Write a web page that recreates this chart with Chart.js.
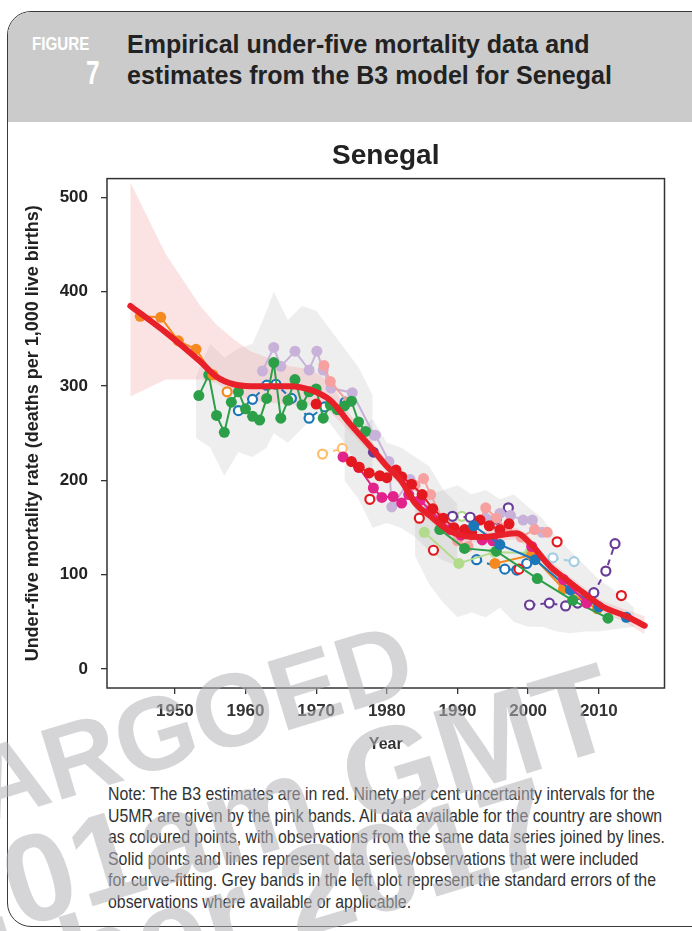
<!DOCTYPE html>
<html>
<head>
<meta charset="utf-8">
<script src="https://cdn.jsdelivr.net/npm/chart.js@4.4.1/dist/chart.umd.min.js"></script>
<style>
  html, body { margin: 0; padding: 0; background: #fff; }
  body { width: 692px; height: 931px; position: relative; overflow: hidden; font-family: "Liberation Sans", Arial, sans-serif; }
  #card { position: absolute; left: 7px; top: 11px; width: 760px; height: 914px; border: 1.5px solid #3a3a3a; border-radius: 24px; overflow: hidden; }
  #head { position: absolute; left: 0; top: 0; right: 0; height: 110px; background: #cbcbcb; }
  #figlab { position: absolute; left: 24px; top: 21px; color: #fff; font-weight: bold; font-size: 19px; transform: scaleX(0.8); transform-origin: 0 0; }
  #fignum { position: absolute; left: 78px; top: 43px; color: #fff; font-weight: bold; font-size: 34px; line-height: 34px; transform: scaleX(0.72); transform-origin: 0 0; }
  #figtitle { position: absolute; left: 119px; top: 17px; color: #222; font-weight: bold; font-size: 25px; line-height: 31px; }
  #chartbox { position: absolute; left: 0; top: 130px; width: 692px; height: 640px; }
  #note { position: absolute; left: 108px; top: 784px; color: #333; font-size: 17.5px; line-height: 21.6px; white-space: nowrap; transform-origin: 0 0; }
  #wm { position: absolute; left: 0; top: 0; pointer-events: none; }
</style>
</head>
<body>
<div id="card">
  <div id="head">
    <div id="figlab">FIGURE</div>
    <div id="fignum">7</div>
    <div id="figtitle">Empirical under-five mortality data and<br>estimates from the B3 model for Senegal</div>
  </div>
</div>
<div id="chartbox"><canvas id="u5mrChart" width="692" height="640"></canvas></div>
<div id="note">Note: The B3 estimates are in red. Ninety per cent uncertainty intervals for the<br>U5MR are given by the pink bands. All data available for the country are shown<br>as coloured points, with observations from the same data series joined by lines.<br>Solid points and lines represent data series/observations that were included<br>for curve-fitting. Grey bands in the left plot represent the standard errors of the<br>observations where available or applicable.</div>
<svg id="wm" width="692" height="931">
  <g fill="rgba(178,178,184,0.55)" font-family="Liberation Sans, Arial, sans-serif" font-weight="bold" text-anchor="end">
    <text x="420" y="690" font-size="104" transform="rotate(-17 420 690)">EMBARGOED</text>
    <text x="623" y="744" font-size="125" transform="rotate(-17 623 744)">00:01am GMT</text>
    <text x="562" y="858" font-size="125" transform="rotate(-17 562 858)">October 2017</text>
  </g>
</svg>
<script>
// tick positions
const xTicks = [1950, 1960, 1970, 1980, 1990, 2000, 2010];
const yTicks = [0, 100, 200, 300, 400, 500];

// B3 estimate (red) and 90% uncertainty band (pink)
const b3Years  = [1943.7, 1948.7, 1953.6, 1955.9, 1958.3, 1960.7, 1966.3, 1969.2, 1972, 1974.8, 1978, 1980, 1982, 1984, 1986.2, 1988.5, 1991, 1993.5, 1996, 1998.4, 2000.2, 2003.1, 2005.4, 2007.8, 2010.6, 2013.9, 2016.5];
const b3Median = [385, 357, 326, 310, 302, 300, 300, 296, 285, 260, 233, 215, 200, 176, 162, 148, 141, 140, 142, 144, 134, 109, 95, 81, 66, 56, 46];
const b3Upper  = [516, 440, 385, 365, 350, 337, 321, 318, 305, 270, 240, 221, 206, 182, 168, 154, 147, 146, 148, 150, 140, 115, 101, 87, 72, 63, 56];
const b3Lower  = [289, 307, 307, 303, 292, 285, 280, 280, 272, 252, 226, 209, 194, 170, 156, 142, 135, 134, 136, 138, 128, 103, 89, 75, 60, 49, 37];

// grey standard-error bands: [year, upper, lower]
const seBand1 = [[1953, 310, 245], [1955, 345, 235], [1957, 330, 205], [1959, 340, 230], [1961, 345, 225], [1963, 380, 235], [1964, 400, 250], [1966, 370, 240], [1968, 385, 255], [1970, 380, 270], [1972, 360, 260], [1974, 340, 240], [1976, 320, 215], [1978, 290, 200]];
const seBand2 = [[1974, 260, 200], [1976, 255, 180], [1978, 265, 150], [1980, 240, 155], [1982, 235, 150], [1984, 225, 140], [1986, 215, 125], [1988, 190, 115], [1990, 175, 110]];
const seBand3 = [[1984, 175, 120], [1986, 185, 90], [1988, 190, 70], [1990, 195, 55], [1992, 185, 60], [1994, 190, 55], [1996, 180, 65], [1998, 185, 50], [2000, 172, 45], [2002, 160, 45], [2004, 140, 40], [2006, 125, 38], [2008, 110, 40], [2010, 95, 40], [2012, 85, 42], [2015, 65, 45]];

// observations: [year, U5MR]
const orangeEarly = [[1945.1, 374], [1948.0, 373], [1950.5, 348], [1953.0, 339], [1955.4, 312]];
const orangeEarlyOpen = [[1957.4, 294]];
const greenEarly = [[1953.4, 290], [1954.8, 312], [1955.9, 269], [1957.0, 251], [1958.0, 283], [1959.0, 294], [1960.0, 276], [1961.0, 268], [1962.0, 264], [1963.0, 287], [1964.0, 325], [1965.0, 266], [1966.0, 285], [1967.0, 307], [1968.0, 280], [1969.0, 294], [1970.0, 297], [1971.0, 266], [1972.0, 280], [1973.0, 275], [1974.0, 279], [1975.0, 284], [1976.0, 262], [1977.0, 252]];
const lavenderEarly = [[1962.4, 316], [1964.0, 341], [1965.0, 321], [1967.0, 337], [1969.0, 317], [1970.1, 337], [1971.0, 317], [1972.1, 298], [1975.1, 293], [1978.2, 248]];
const blueEarlyOpen = [[1959.0, 274], [1961.0, 286], [1963.0, 301], [1964.3, 302], [1966.5, 287], [1969.0, 266], [1971.2, 278], [1974.1, 283]];
const salmonEarly = [[1971.1, 322], [1972.0, 305], [1974.5, 283]];
const redSingle = [[1970.0, 281]];
const lightOrangeOpen = [[1970.9, 228], [1973.7, 234]];
const magentaA = [[1973.8, 225], [1976.0, 214], [1978.1, 192], [1979.3, 182], [1980.9, 183], [1982.1, 176], [1983.1, 185], [1984.7, 179], [1986.2, 168], [1987.6, 158], [1989.0, 148], [1990.5, 142], [1992.0, 143], [1993.5, 137], [1995.0, 136]];
const redA = [[1975.0, 220], [1976.1, 214], [1977.5, 208], [1979.0, 205], [1980.0, 203], [1981.3, 211], [1982.1, 204], [1983.5, 196], [1985.0, 185], [1986.5, 170], [1988.0, 160], [1989.5, 150], [1991.0, 148], [1992.0, 145], [1993.2, 158], [1994.5, 152], [1996.0, 148], [1997.3, 154]];
const redOpen = [[1977.6, 180], [1984.6, 160], [1986.6, 126], [1998.7, 106], [2004.1, 135], [2013.2, 78]];
const purpleDark = [[1978.1, 230]];
const lavenderB = [[1978.4, 248], [1980.3, 220], [1980.7, 172], [1983.3, 201], [1985.9, 169], [1987.5, 160], [1989.0, 150], [1991.5, 147], [1994.0, 160], [1996.0, 165], [1997.5, 163], [1999.3, 158], [2000.6, 158], [2002.0, 145]];
const salmonB = [[1984.0, 195], [1985.2, 202], [1986.2, 185], [1988.0, 158], [1990.0, 136], [1991.5, 130], [1994.0, 171], [1995.5, 160], [1997.0, 148], [1999.0, 140], [2000.9, 148], [2002.7, 145]];
const purpleOpenA = [[1989.3, 162], [1991.8, 161], [1995.5, 159], [1997.2, 171]];
const purpleOpenB = [[2000.2, 68], [2003.0, 70], [2005.3, 67], [2007.0, 70], [2009.3, 81], [2011.0, 104], [2012.3, 133]];
const lightGreen = [[1985.3, 145], [1990.2, 112], [1995.2, 124], [2000.2, 123], [2005.3, 86]];
const lightGreenOpen = [[1990.6, 162]];
const greenLate = [[1987.5, 148], [1991.0, 128], [1995.5, 125], [2001.3, 96], [2006.3, 73], [2011.3, 54]];
const orangeLate = [[1995.3, 112], [2000.5, 121], [2005.0, 85], [2009.8, 64]];
const blueLate = [[1992.3, 152], [1996.0, 132], [2001.0, 116], [2006.0, 84], [2010.0, 66], [2013.9, 55]];
const blueLateOpen = [[1992.7, 116], [1996.7, 106], [1998.4, 105], [1999.8, 112]];
const lightBlueOpen = [[2003.5, 118], [2006.5, 114]];
const magentaLate = [[2000.5, 130], [2005.0, 95], [2008.3, 70]];

const C = {
  orange: '#f5891f', green: '#2ca048', blue: '#1c77b9', lavender: '#c8b2d9', salmon: '#f6a1a0',
  red: '#e3191f', magenta: '#e3238c', purple: '#6a3d9a', lightgreen: '#b2dc8c', lightblue: '#a6cee3', lightorange: '#fdbf6f'
};

const toXY = pairs => pairs.map(p => ({ x: p[0], y: p[1] }));

function obs(pairs, color, open, joined = true) {
  return {
    data: toXY(pairs),
    showLine: joined,
    borderColor: color,
    borderWidth: 2,
    borderDash: open ? [6, 5] : [],
    pointRadius: open ? 4.5 : 5.5,
    pointBorderWidth: open ? 2.2 : 0,
    pointBackgroundColor: open ? '#fff' : color,
    pointBorderColor: color,
    tension: 0
  };
}

function band(rows, col, color) {
  return {
    data: rows.map(r => ({ x: r[0], y: r[col] })),
    showLine: true, borderWidth: 0, pointRadius: 0,
    backgroundColor: color, fill: col === 1 ? '+1' : false, tension: 0
  };
}

const greyFill = 'rgba(150,150,150,0.16)';
const pinkFill = 'rgba(243,150,150,0.27)';
const pinkRows = b3Years.map((y, i) => [y, b3Upper[i], b3Lower[i]]);

const datasets = [
  { data: b3Years.map((y, i) => ({ x: y, y: b3Median[i] })), showLine: true, borderColor: '#e8202a', borderWidth: 6,
    pointRadius: 0, tension: 0.4, cubicInterpolationMode: 'monotone', borderCapStyle: 'round' },
  obs(purpleDark, C.purple, false),
  obs(redSingle, C.red, false),
  obs(magentaLate, C.magenta, false),
  obs(blueLate, C.blue, false),
  obs(greenLate, C.green, false),
  obs(orangeLate, C.orange, false),
  obs(lightGreen, C.lightgreen, false),
  obs(redA, C.red, false),
  obs(magentaA, C.magenta, false),
  obs(salmonB, C.salmon, false),
  obs(lavenderB, C.lavender, false),
  obs(redOpen, C.red, true, false),
  obs(purpleOpenA, C.purple, true),
  obs(purpleOpenB, C.purple, true),
  obs(lightGreenOpen, C.lightgreen, true),
  obs(blueLateOpen, C.blue, true),
  obs(lightBlueOpen, C.lightblue, true),
  obs(lightOrangeOpen, C.lightorange, true),
  obs(orangeEarly, C.orange, false),
  obs(orangeEarlyOpen, C.orange, true),
  obs(greenEarly, C.green, false),
  obs(salmonEarly, C.salmon, false),
  obs(blueEarlyOpen, C.blue, true),
  obs(lavenderEarly, C.lavender, false),
  band(pinkRows, 1, pinkFill),
  band(pinkRows, 2, pinkFill),
  band(seBand1, 1, greyFill), band(seBand1, 2, greyFill),
  band(seBand2, 1, greyFill), band(seBand2, 2, greyFill),
  band(seBand3, 1, greyFill), band(seBand3, 2, greyFill)
];

const frame = {
  id: 'frame',
  beforeDatasetsDraw(chart) {
    const { ctx, chartArea: a } = chart;
    ctx.save();
    ctx.strokeStyle = '#333';
    ctx.lineWidth = 1.5;
    ctx.strokeRect(a.left, a.top, a.right - a.left, a.bottom - a.top);
    ctx.restore();
  }
};

const fam = '"Liberation Sans", Arial, sans-serif';

new Chart(document.getElementById('u5mrChart'), {
  type: 'scatter',
  data: { datasets: datasets },
  options: {
    responsive: false,
    animation: false,
    layout: { padding: { top: 9, right: 27.5, left: 0, bottom: 0 } },
    plugins: {
      legend: { display: false },
      tooltip: { enabled: false },
      title: { display: true, text: 'Senegal', fullSize: false, color: '#222',
        font: { family: fam, size: 28, weight: 'bold' }, padding: { top: 0, bottom: 6 } }
    },
    scales: {
      x: {
        type: 'linear', min: 1940.4, max: 2019.3,
        afterBuildTicks: s => { s.ticks = xTicks.map(v => ({ value: v })); },
        afterFit: s => { s.height = 82; },
        border: { display: false },
        grid: { drawOnChartArea: false, tickLength: 6, color: '#333', lineWidth: 1.3 },
        ticks: { padding: 7, color: '#333', font: { family: fam, size: 17, weight: 'bold' }, callback: v => String(v) },
        title: { display: true, text: 'Year', color: '#333', font: { family: fam, size: 16, weight: 'bold' }, padding: { top: 0, bottom: 16 } }
      },
      y: {
        min: -20, max: 520,
        afterBuildTicks: s => { s.ticks = yTicks.map(v => ({ value: v })); },
        afterFit: s => { s.width = 107; },
        border: { display: false },
        grid: { drawOnChartArea: false, tickLength: 6, color: '#333', lineWidth: 1.3 },
        ticks: { padding: 13, color: '#222', font: { family: fam, size: 17, weight: 'bold' }, callback: v => String(v) },
        title: { display: true, text: 'Under-five mortality rate (deaths per 1,000 live births)', color: '#222',
          font: { family: fam, size: 18, weight: 'bold' }, padding: { top: 22, bottom: 0 } }
      }
    }
  },
  plugins: [frame]
});

// squeeze the note to the condensed width of the original
const note = document.getElementById('note');
note.style.transform = 'scaleX(' + (557 / note.scrollWidth) + ')';
</script>
</body>
</html>
